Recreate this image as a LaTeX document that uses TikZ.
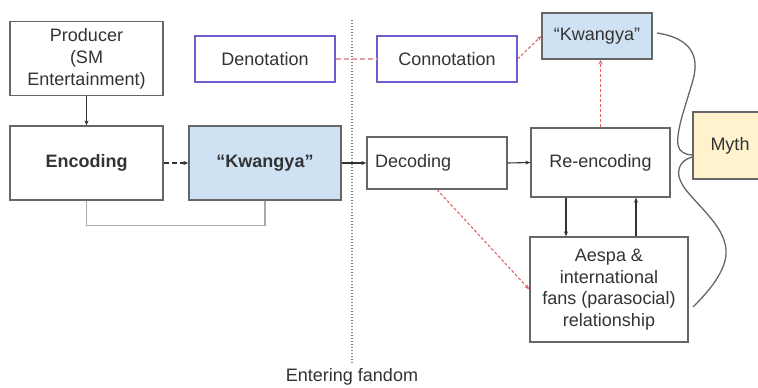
\documentclass[tikz,border=0pt]{standalone}
\usepackage{fontspec}
\setmainfont{Liberation Sans}
\usetikzlibrary{arrows.meta,calc}
\definecolor{bordergray}{HTML}{666666}
\definecolor{txtgray}{HTML}{333333}
\definecolor{purpleb}{HTML}{6B5FD0}
\definecolor{bluefill}{HTML}{CFE2F3}
\definecolor{yellowfill}{HTML}{FFF2CC}
\definecolor{reddash}{HTML}{E06666}
\definecolor{pinkdash}{HTML}{E8A0A8}
\definecolor{bracketgray}{HTML}{AAAAAA}
\tikzset{
  box/.style={draw=bordergray, line width=1.3pt, fill=white, inner sep=2pt, align=center, text=txtgray, font=\fontsize{18}{22}\selectfont},
  purplebox/.style={box, draw=purpleb},
  bluebox/.style={box, fill=bluefill},
  yellowbox/.style={box, fill=yellowfill},
  arr/.style={-{Stealth[length=5pt,width=4pt]}, line width=1.1pt, draw=txtgray},
  redarr/.style={-{Stealth[length=5pt,width=4pt]}, line width=1.1pt, draw=reddash, dash pattern=on 3pt off 2pt},
  curvy/.style={line width=1.3pt, draw=bordergray},
}
\begin{document}
\begin{tikzpicture}[x=1pt,y=-1pt]
\useasboundingbox (0,0) rectangle (758,388);
\clip (0,0) rectangle (758,388);
% dotted divider
\coordinate (dtop) at (352,20);
\coordinate (dbot) at (352,363);
\draw[draw=gray, line width=1.6pt, dash pattern=on 1.4pt off 1.6pt] (dtop) -- (dbot);
\node[text=txtgray, font=\fontsize{18}{22}\selectfont] (enter) at (352,377) {Entering fandom};

\node[box, minimum width=153pt, minimum height=74pt] (prod) at (86.5,58.5) {Producer\\(SM\\Entertainment)};
\node[box, minimum width=153pt, minimum height=74pt, font=\fontsize{18}{22}\selectfont\bfseries] (enc) at (86.5,163) {Encoding};
\node[bluebox, minimum width=152pt, minimum height=74pt, font=\fontsize{18}{22}\selectfont\bfseries] (kw1) at (265,163) {“Kwangya”};
\node[purplebox, minimum width=140pt, minimum height=46pt] (den) at (265,59) {Denotation};
\node[purplebox, minimum width=140pt, minimum height=46pt] (con) at (447,59) {Connotation};
\node[bluebox, minimum width=110pt, minimum height=46pt] (kw2) at (597,36) {“Kwangya”};
\node[box, minimum width=140pt, minimum height=52pt, text width=124pt, align=left] (dec) at (437,163) {Decoding};
\node[box, minimum width=139pt, minimum height=69pt] (reenc) at (600.5,162.5) {Re-encoding};
\node[yellowbox, minimum width=74pt, minimum height=67pt] (myth) at (730,145.5) {Myth};
\node[box, minimum width=158pt, minimum height=105pt, font=\fontsize{18}{21.7}\selectfont] (aespa) at (609,289.5) {Aespa \&\\international\\fans (parasocial)\\relationship};

% connectors
\draw[arr] (prod.south) -- (enc.north);
\draw[arr, dash pattern=on 5pt off 3pt] (enc.east) -- (kw1.west);
\draw[arr] (kw1.east) -- (dec.west);
\draw[draw=bracketgray, line width=1.4pt] (enc.south) -- ++(0,25) -| (kw1.south);
\draw[arr] (dec.east) -- (reenc.west);
\draw[arr] ([xshift=-34.5pt]reenc.south) -- ([xshift=-34.5pt]reenc.south |- aespa.north);
\draw[arr] ([xshift=27pt]aespa.north) -- ([xshift=27pt]aespa.north |- reenc.south);
\draw[redarr] (dec.south) -- (aespa.west);
\draw[redarr] (reenc.north) -- (reenc.north |- kw2.south);
\draw[redarr] (con.east) -- (kw2.west);
\draw[draw=pinkdash, line width=1.3pt, dash pattern=on 5pt off 3pt] (den.east) -- (con.west);

% braces to myth
\coordinate (c1s) at (657,33);
\coordinate (c1e) at ([yshift=-9.5pt]myth.west);
\coordinate (c2s) at ([yshift=-11.5pt]myth.west);
\coordinate (c2e) at (693,307);
\draw[curvy] (c1s) .. controls (690,38) and (700,55) .. (693,80)
  .. controls (686,105) and (676,130) .. (678,145)
  .. controls (679,152) and (686,155) .. (c1e);
\draw[curvy] (c2s) .. controls (680,160) and (672,172) .. (686,190)
  .. controls (702,210) and (728,230) .. (726,255)
  .. controls (724,275) and (705,295) .. (c2e);
\end{tikzpicture}
\end{document}
